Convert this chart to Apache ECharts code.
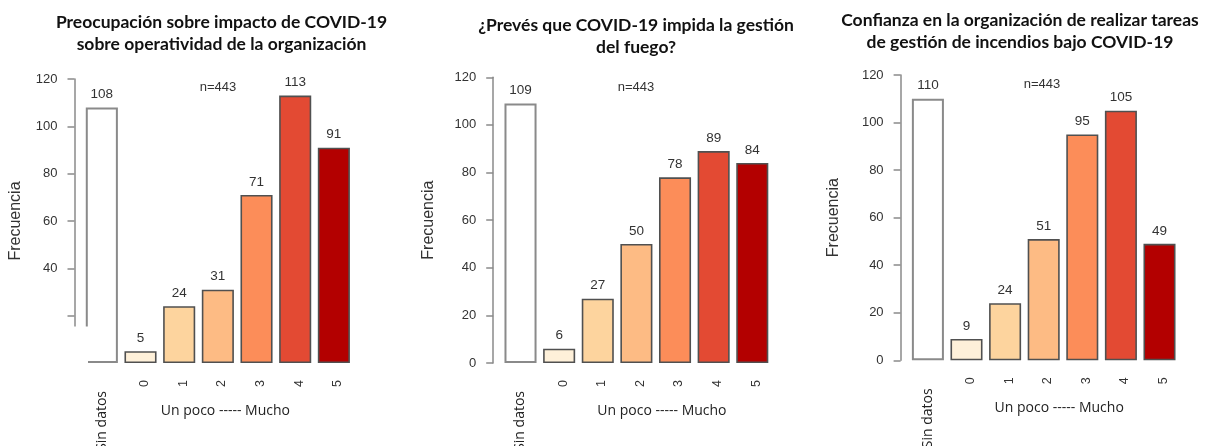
<!DOCTYPE html>
<html>
<head>
<meta charset="utf-8">
<script src="https://cdn.jsdelivr.net/npm/echarts@6/dist/echarts.min.js"></script>
<style>
html,body{margin:0;padding:0;background:#fff;}
#c{width:1206px;height:446px;}
</style>
</head>
<body>
<div id="c"></div>
<script>
const categories = ['Sin datos', '0', '1', '2', '3', '4', '5'];
const titles = [
  'Preocupación sobre impacto de COVID-19\nsobre operatividad de la organización',
  '¿Prevés que COVID-19 impida la gestión\ndel fuego?',
  'Confianza en la organización de realizar tareas\nde gestión de incendios bajo COVID-19'
];
const preocupacion = [108, 5, 24, 31, 71, 113, 91];
const prevision = [109, 6, 27, 50, 78, 89, 84];
const confianza = [110, 9, 24, 51, 95, 105, 49];
const yTicks = [0, 20, 40, 60, 80, 100, 120];
const nLabel = 'n=443';
const yName = 'Frecuencia';
const xName = 'Un poco ----- Mucho';

const palette = ['#ffffff', '#fef0d9', '#fdd49e', '#fdbb84', '#fc8d59', '#e34a33', '#b30000'];
const seriesData = [preocupacion, prevision, confianza];

const layouts = [
  {left: 82.5, top: 79, width: 270.7, height: 284, nameGap: 51, titleX: 221.5, titleY: 11, nX: 218, nY: 87, xPad: 15},
  {left: 501.2, top: 77.3, width: 270.4, height: 285.7, nameGap: 57, titleX: 636, titleY: 14, nX: 636, nY: 87, xPad: 51},
  {left: 908.6, top: 75, width: 270.2, height: 285.3, nameGap: 59, titleX: 1020, titleY: 9, nX: 1042, nY: 84, xPad: 31}
];

const sans = 'Liberation Sans, Arial, sans-serif';
const grids = [], xAxes = [], yAxes = [], series = [], titleOpts = [], graphics = [];

layouts.forEach((L, i) => {
  grids.push({left: L.left, top: L.top, width: L.width, height: L.height, containLabel: false, outerBoundsMode: 'none'});
  titleOpts.push({
    text: titles[i], left: L.titleX, top: L.titleY, textAlign: 'center', padding: 0,
    textStyle: {fontFamily: 'Lato', fontWeight: 'bold', fontSize: 17.5, lineHeight: 22, color: '#111'}
  });
  xAxes.push({
    type: 'category', gridIndex: i, data: categories,
    axisLine: {show: false}, axisTick: {show: false},
    name: xName, nameLocation: 'middle', nameGap: 41, nameMoveOverlap: false,
    nameTextStyle: {fontFamily: 'Open Sans', fontSize: 14, color: '#222', padding: [0, 0, 0, L.xPad]},
    axisLabel: {
      rotate: 90, margin: 17, interval: 0, hideOverlap: false,
      formatter: v => v === 'Sin datos' ? '{s|' + v + '}' : '{d|' + v + '}',
      rich: {
        s: {fontFamily: 'Open Sans', fontSize: 14, color: '#222', padding: [0, 11, 0, 0]},
        d: {fontFamily: sans, fontSize: 12.5, color: '#333', padding: [8, 0, 0, 0]}
      }
    }
  });
  yAxes.push({
    type: 'value', gridIndex: i, min: yTicks[0], max: yTicks[yTicks.length - 1], interval: yTicks[1] - yTicks[0],
    offset: 8,
    name: yName, nameLocation: 'middle', nameGap: L.nameGap, nameMoveOverlap: false,
    nameTextStyle: {fontFamily: sans, fontSize: 16, color: '#333'},
    axisLine: {show: true, lineStyle: {color: '#8a8a8a', width: 1.5}},
    axisTick: {show: true, length: 7, lineStyle: {color: '#8a8a8a', width: 1.5}},
    axisLabel: {margin: 17, fontFamily: sans, fontSize: 13, color: '#333'},
    splitLine: {show: false}
  });
  series.push({
    type: 'bar', xAxisIndex: i, yAxisIndex: i, barCategoryGap: '17%',
    data: seriesData[i].map((v, k) => ({
      value: v,
      itemStyle: {
        color: palette[k],
        borderColor: k === 0 ? '#8a8a8a' : '#505050',
        borderWidth: k === 0 ? 2 : 1.6
      }
    })),
    label: {show: true, position: 'top', distance: 6, fontFamily: sans, fontSize: 13.5, color: '#333'}
  });
  graphics.push({
    type: 'text', x: L.nX, y: L.nY, z: 50,
    style: {text: nLabel, x: 0, y: 0, align: 'center', verticalAlign: 'middle', font: '13px Liberation Sans', fill: '#333'}
  });
});

// white patch that hides the lower part of the first y axis in the original picture
graphics.push({type: 'rect', z: 100, shape: {x: 28, y: 304, width: 32, height: 72}, style: {fill: '#fff'}});
graphics.push({type: 'rect', z: 100, shape: {x: 60, y: 326.5, width: 28, height: 50}, style: {fill: '#fff'}});

const chart = echarts.init(document.getElementById('c'), null, {renderer: 'canvas'});
chart.setOption({
  animation: false,
  backgroundColor: '#fff',
  title: titleOpts,
  grid: grids, xAxis: xAxes, yAxis: yAxes, series: series,
  graphic: graphics
});
</script>
</body>
</html>
